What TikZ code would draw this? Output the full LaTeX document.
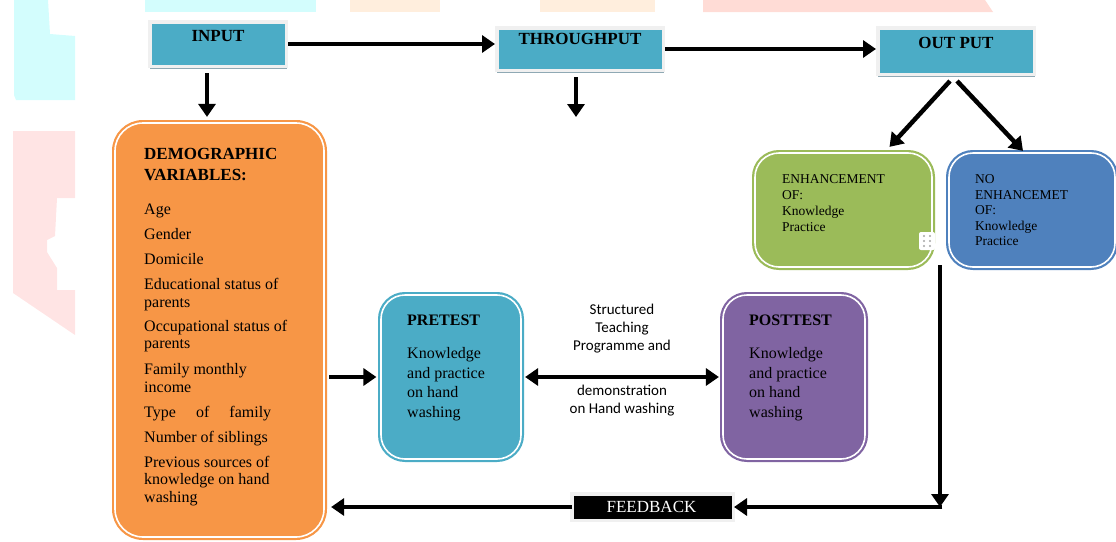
\documentclass[tikz,border=0pt]{standalone}
\usepackage{fontspec}
\setmainfont{Liberation Serif}
\newfontfamily\calibfont{Carlito}
\usetikzlibrary{arrows.meta,shadows,calc}
\definecolor{tealbox}{HTML}{4BACC6}
\definecolor{orngbox}{HTML}{F79646}
\definecolor{grnbox}{HTML}{9BBB59}
\definecolor{blubox}{HTML}{4F81BD}
\definecolor{purpbox}{HTML}{8064A2}
\definecolor{framegray}{HTML}{F0F0F0}
\definecolor{shadgray}{HTML}{8FA9B4}
\definecolor{wmcyan}{HTML}{D3FDFD}
\definecolor{wmpeach}{HTML}{FFEEDD}
\definecolor{wmpink}{HTML}{FFDCD6}
\definecolor{wmpinkl}{HTML}{FFE4E4}
\tikzset{
  hbox/.style={rectangle, fill=tealbox, draw=framegray, line width=3.5pt, inner sep=0pt,
    drop shadow={shadow xshift=0.5pt, shadow yshift=-2.5pt, fill=shadgray, opacity=1}},
  rbox/.style={rectangle, draw=#1, fill=#1, double=white, double distance=1.6pt,
    line width=2.2pt, inner sep=0pt},
  arr/.style={line width=4.5pt, -{Triangle[length=13pt,width=17pt]}},
  darr/.style={line width=4.5pt, {Triangle[length=13pt,width=17pt]}-{Triangle[length=13pt,width=17pt]}},
  hdr/.style={inner sep=0pt, font=\fontsize{17}{20}\selectfont\bfseries},
  dtxt/.style={inner sep=0pt, anchor=north west, align=left, font=\fontsize{16}{17.5}\selectfont},
  etxt/.style={inner sep=0pt, anchor=north west, align=left, font=\fontsize{13.5}{16}\selectfont},
  ptxt/.style={inner sep=0pt, anchor=north west, align=left, font=\fontsize{16}{19.5}\selectfont},
  stxt/.style={inner sep=0pt, align=center, font=\calibfont\fontsize{15}{18}\selectfont},
}
\begin{document}
\begin{tikzpicture}[x=1pt,y=-1pt]
\useasboundingbox (0,0) rectangle (1116,541);
% faint watermark
\fill[wmcyan] (14,0) -- (48,0) -- (50,34) -- (75,36) -- (75,100) -- (16,100) -- (14,95) -- cycle;
\fill[wmpinkl] (13,131) -- (75,131) -- (75,198) -- (57,198) -- (55,236) -- (47,240) -- (47,252) -- (57,268) -- (57,290) -- (75,290) -- (75,335) -- (13,293) -- cycle;
\fill[wmcyan] (145,0) rectangle (316,12);
\fill[wmpeach] (350,0) rectangle (440,12);
\fill[wmpeach] (540,0) rectangle (655,12);
\fill[wmpink] (703,0) -- (985,0) -- (993,12) -- (703,12) -- cycle;

% top boxes
\node[hbox, minimum width=136.5pt, minimum height=44.5pt] (input) at (218,44) {};
\node[hbox, minimum width=166.5pt, minimum height=42.5pt] (through) at (580,49) {};
\node[hbox, minimum width=156.5pt, minimum height=46.5pt] (output) at (956,51) {};
\node[hdr] (inputT) at (218,36) {INPUT};
\node[hdr] (throughT) at (580,39) {THROUGHPUT};
\node[hdr] (outputT) at (956,43) {OUT PUT};

% rounded boxes
\node[rbox=orngbox, rounded corners=28pt, minimum width=209pt, minimum height=414pt] (demo) at (219.5,330) {};
\node[rbox=grnbox, rounded corners=24pt, minimum width=177pt, minimum height=114pt] (enh) at (843.5,210) {};
\node[rbox=blubox, rounded corners=24pt, minimum width=166pt, minimum height=114pt] (noenh) at (1032,210) {};
\node[rbox=tealbox, rounded corners=24pt, minimum width=140pt, minimum height=164pt] (pre) at (451,377) {};
\node[rbox=purpbox, rounded corners=24pt, minimum width=142pt, minimum height=164pt] (post) at (794,377) {};
\node[rectangle, fill=black, draw=framegray, line width=3.5pt, inner sep=0pt,
  drop shadow={shadow xshift=0.5pt, shadow yshift=-2pt, fill=gray!60, opacity=1},
  minimum width=161.5pt, minimum height=26.5pt] (feed) at (652.5,507) {};
\node[inner sep=0pt, text=white, font=\fontsize{17}{20}\selectfont] (feedT) at (651.5,507) {FEEDBACK};

% handle icon
\fill[white, rounded corners=2pt] (919,232) rectangle (935,250);
\foreach \hx in {924,930} \foreach \hy in {236,241,246} \fill[gray!70] (\hx,\hy) circle (1.1pt);

% texts
\node[inner sep=0pt, anchor=north west, align=left, font=\fontsize{17}{21}\selectfont\bfseries] (demoH) at (144,148) {DEMOGRAPHIC\\VARIABLES:};
\node[dtxt] (demoL) at (144,203.5) {Age\\[8pt]
Gender\\[7.5pt]
Domicile\\[7.5pt]
Educational status of\\
parents\\[6.5pt]
Occupational status of\\
parents\\[8.5pt]
Family monthly\\
income\\[7.5pt]
\makebox[127pt][s]{Type of family}\\[7.5pt]
Number of siblings\\[7.5pt]
Previous sources of\\
knowledge on hand\\
washing};
\node[etxt] (enhT) at (782,174.5) {ENHANCEMENT\\OF:\\Knowledge\\Practice};
\node[etxt, font=\fontsize{13.5}{15.5}\selectfont] (noenhT) at (975,174.5) {NO\\ENHANCEMET\\OF:\\Knowledge\\Practice};
\node[inner sep=0pt, anchor=north west, font=\fontsize{16}{19}\selectfont\bfseries] (preH) at (407,314.7) {PRETEST};
\node[ptxt] (preT) at (407,347.5) {Knowledge\\and practice\\on hand\\washing};
\node[inner sep=0pt, anchor=north west, font=\fontsize{16}{19}\selectfont\bfseries] (postH) at (749,314.7) {POSTTEST};
\node[ptxt] (postT) at (749,347.5) {Knowledge\\and practice\\on hand\\washing};
\node[stxt] (stp) at (622,329) {Structured\\Teaching\\Programme and};
\node[stxt] (demon) at (622,401) {demonstration\\on Hand washing};

% connectors
\draw[arr] (input.east) -- (input.east -| through.west);
\draw[arr] (through.east) -- (through.east -| output.west);
\draw[arr, shorten >=5pt] ([xshift=-11pt,yshift=-5pt]input.south) -- ([xshift=-11pt]input.south |- demo.north);
\coordinate (tdown) at (576,117);
\draw[arr] ([xshift=-4pt,yshift=-5pt]through.south) -- (tdown);
\draw[arr] ([xshift=-6pt,yshift=-5pt]output.south) -- ($(enh.north)+(46,-5)$);
\draw[arr] ([xshift=1pt,yshift=-5pt]output.south) -- ($(noenh.north)+(-9,-1)$);
\draw[arr, shorten <=4pt, shorten >=3.5pt] (demo.east |- pre.west) -- (pre.west);
\draw[darr, shorten <=3pt, shorten >=3pt] (pre.east) -- (post.west);
\coordinate (c1) at (940,265);
\coordinate (c2) at (940,507);
\draw[arr] (c1) -- (c2);
\draw[arr, shorten >=-1pt] ([xshift=2.25pt]c2) -- (feed.east);
\draw[arr, shorten <=-2pt, shorten >=6pt] (feed.west) -- (feed.west -| demo.east);
\end{tikzpicture}
\end{document}
